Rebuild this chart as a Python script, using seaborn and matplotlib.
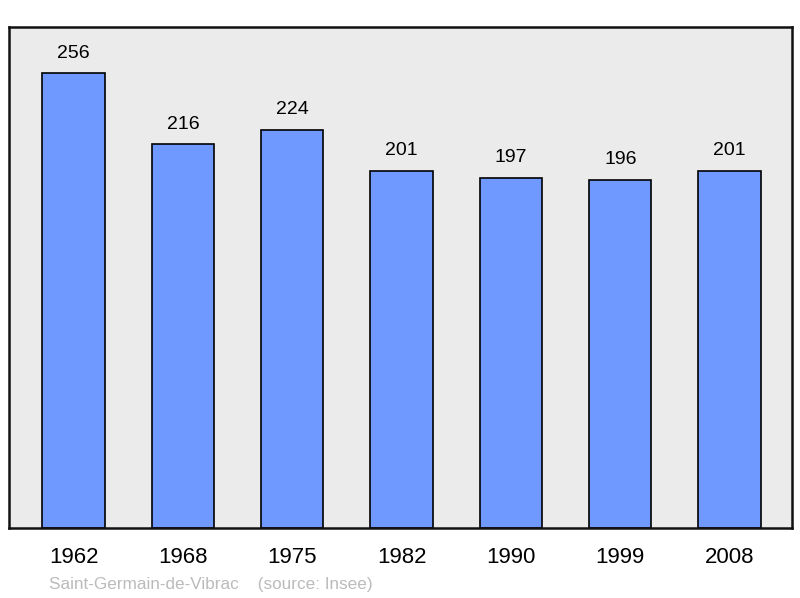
import matplotlib
matplotlib.use('Agg')
import matplotlib.pyplot as plt
import seaborn as sns
import pandas as pd

# données de population
years = ['1962', '1968', '1975', '1982', '1990', '1999', '2008']
population = [256, 216, 224, 201, 197, 196, 201]
commune = 'Saint-Germain-de-Vibrac'
source = '(source: Insee)'

df = pd.DataFrame({'annee': years, 'pop': population})

sns.set_style('white')
plt.rcParams['font.family'] = ['Liberation Sans', 'DejaVu Sans']

fig = plt.figure(figsize=(8, 5.98), dpi=100)
ax = fig.add_axes([0.01125, 0.117, 0.97875, 0.838])
ax.set_facecolor('#ebebeb')

sns.barplot(data=df, x='annee', y='pop', color='#7099ff', saturation=1,
            width=0.57, edgecolor='black', linewidth=1.2, ax=ax)

for i, v in enumerate(population):
    ax.text(i, v + 6.5, str(v), ha='center', va='bottom', fontsize=14,
            color='black')

ax.set_xlim(-0.59, 6.57)
ax.set_ylim(0, 282)
ax.set_yticks([])
ax.set_xlabel('')
ax.set_ylabel('')
ax.tick_params(axis='x', length=0, labelsize=16, pad=14, labelcolor='black')
for s in ax.spines.values():
    s.set_linewidth(1.8)
    s.set_color('#111111')

fig.text(49 / 800, 1 - 584 / 598, commune + '    ' + source,
         color='#bbbbbb', fontsize=12.3, va='center', ha='left')

fig.savefig('out.png', dpi=100)
